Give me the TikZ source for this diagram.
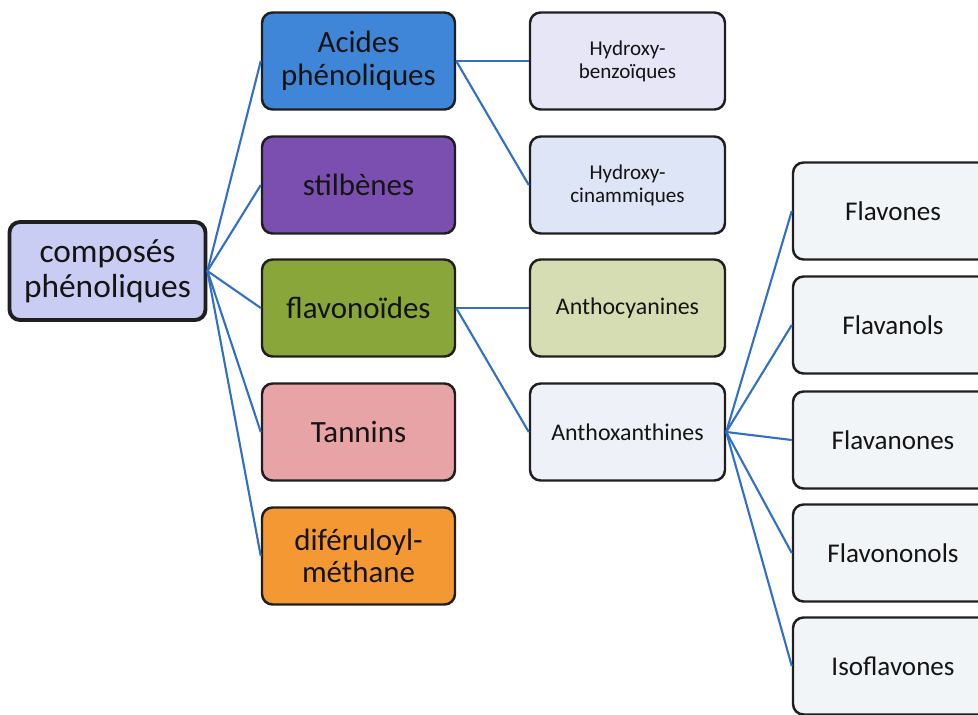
\documentclass[tikz,border=0pt]{standalone}
\usepackage{fontspec}
\setmainfont{Carlito}
\usepackage{tikz}
\usetikzlibrary{positioning}
\usepackage{xcolor}
\definecolor{linkblue}{HTML}{3270C4}
\definecolor{lav}{HTML}{C9CDF3}
\definecolor{acidblue}{HTML}{3F86D8}
\definecolor{stilpurple}{HTML}{7B4FB0}
\definecolor{flavgreen}{HTML}{88A63A}
\definecolor{tannpink}{HTML}{E8A3A6}
\definecolor{difeorange}{HTML}{F39832}
\definecolor{benzlav}{HTML}{E6E6F7}
\definecolor{cinblue}{HTML}{DDE5F6}
\definecolor{cyangreen}{HTML}{D7DDB2}
\definecolor{xantgray}{HTML}{EEF2F8}
\definecolor{leafgray}{HTML}{F2F5F8}

\begin{document}
\begin{tikzpicture}[
    box/.style={draw=black!88, line width=1.4pt, rounded corners=6pt, align=center, text=black!92,
      minimum height=1.94cm, inner sep=2pt},
    root/.style={box, line width=2.2pt, fill=lav, minimum width=3.92cm, minimum height=1.96cm,
      font=\fontsize{19}{19.8}\selectfont},
    kind/.style={box, minimum width=3.86cm, font=\fontsize{17.6}{18.6}\selectfont},
    sub/.style={box, minimum width=3.9cm, font=\fontsize{13.6}{13.6}\selectfont},
    small/.style={sub, font=\fontsize{12}{13.2}\selectfont},
    leaf/.style={box, fill=leafgray, minimum width=4cm, font=\fontsize{15.4}{16}\selectfont},
    link/.style={draw=linkblue, line width=1.2pt}]
    \useasboundingbox (0,0) rectangle (19.56,-14.28);
    \node[root] (comp) at (2.15,-5.42) {composés\\phénoliques};
    % classes
    \node[kind, fill=acidblue] (acid) at (7.17,-1.22) {Acides\\phénoliques};
    \node[kind, fill=stilpurple] (stil) at (7.17,-3.70) {stilbènes};
    \node[kind, fill=flavgreen] (flav) at (7.17,-6.16) {flavonoïdes};
    \node[kind, fill=tannpink] (tann) at (7.17,-8.64) {Tannins};
    \node[kind, fill=difeorange] (dife) at (7.17,-11.12) {diféruloyl-\\méthane};
    % sub-classes
    \node[small, fill=benzlav] (hben) at (12.55,-1.22) {Hydroxy-\\benzoïques};
    \node[small, fill=cinblue] (hcin) at (12.55,-3.70) {Hydroxy-\\cinammiques};
    \node[sub, fill=cyangreen] (cyan) at (12.55,-6.16) {Anthocyanines};
    \node[sub, fill=xantgray] (xant) at (12.55,-8.64) {Anthoxanthines};
    % anthoxanthines
    \node[leaf] (fone) at (17.86,-4.22) {Flavones};
    \node[leaf] (fnol) at (17.86,-6.50) {Flavanols};
    \node[leaf] (fnon) at (17.86,-8.80) {Flavanones};
    \node[leaf] (fnnl) at (17.86,-11.06) {Flavononols};
    \node[leaf] (isof) at (17.86,-13.32) {Isoflavones};
    \foreach \x/\y in {comp/acid,comp/stil,comp/flav,comp/tann,comp/dife,acid/hben,acid/hcin,flav/cyan,flav/xant,
      xant/fone,xant/fnol,xant/fnon,xant/fnnl,xant/isof} \draw[link] (\x.east) -- (\y.west);
\end{tikzpicture}
\end{document}
